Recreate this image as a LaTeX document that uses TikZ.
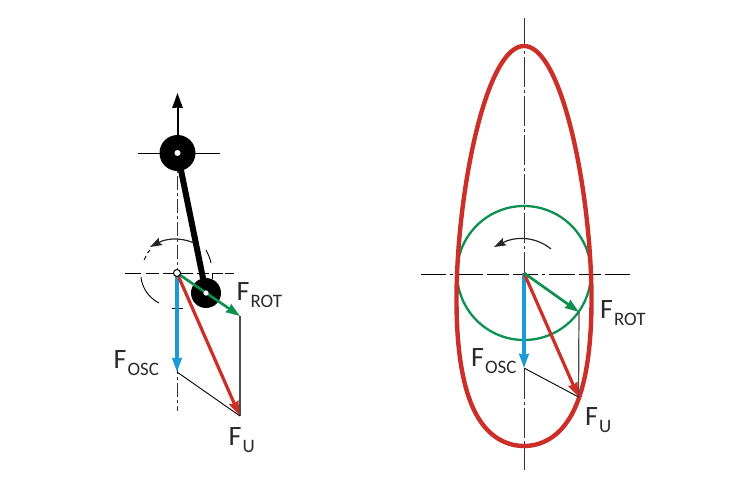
\documentclass[tikz,border=0pt]{standalone}
\usepackage{fontspec}
\setmainfont{Carlito}
\usetikzlibrary{arrows.meta}
\definecolor{cred}{HTML}{CC2E28}
\definecolor{cgreen}{HTML}{0E9050}
\definecolor{cblue}{HTML}{1A9AD6}
\definecolor{ctext}{HTML}{2A2A2A}
\newcommand{\flab}[1]{F{\fontsize{19}{19}\selectfont\hspace{1pt}\raisebox{-7pt}{#1}}}
\tikzset{
  axis/.style={line width=0.9pt,color=black!80,dash pattern=on 30pt off 3pt on 3pt off 3pt},
  thinline/.style={line width=0.9pt,color=black},
  grayline/.style={line width=1.2pt,color=black!70},
  force/.style={line width=3.2pt,-{Stealth[length=14pt,width=9.5pt,inset=1pt]}},
  rotarrow/.style={line width=1.2pt,color=black!85,-{Stealth[length=12pt,width=8pt,inset=2pt]}},
  lab/.style={anchor=base west,inner sep=0pt,font=\fontsize{28}{28}\selectfont,text=ctext},
  curve/.style={line width=4.4pt,color=cred},
  circ/.style={line width=2.3pt,color=cgreen}
}
\begin{document}
\begin{tikzpicture}[x=1pt,y=-1pt]
\useasboundingbox (0,0) rectangle (755,488);
\fill[white] (0,0) rectangle (755,488);
% ---------- left figure
\coordinate (oL) at (177,273);
\coordinate (pin) at (177.5,153);
\coordinate (crank) at (206,293);
\coordinate (tipUp) at (177.5,93);
\coordinate (axT) at (177,153);
\coordinate (axB) at (177,411);
\coordinate (lh1) at (138,153);
\coordinate (lh2) at (220,153);
\coordinate (hL1) at (125,273);
\coordinate (hL2) at (234,273);
\coordinate (rotL) at (240,316);
\coordinate (oscL) at (177,372);
\coordinate (resL) at (240,416);
\coordinate (tick1) at (172,308);
\coordinate (tick2) at (183,308);
\draw[line width=0.9pt,color=black!80,dash pattern=on 14pt off 3pt on 3pt off 3pt] (axT) -- (axB);
\draw[thinline] (lh1) -- (lh2);
\draw[thinline,dash pattern=on 16pt off 5pt on 13pt off 4pt on 30pt off 4pt on 12pt off 4pt on 10pt off 2pt on 12pt] (hL1) -- (hL2);
\draw[thinline] (tick1) -- (tick2);
\draw[thinline] (212,273) -- (212,279);
\draw[thinline] (141,277) .. controls (142,288) and (149,298) .. (159,303);
\draw[thinline] (144,260) -- (146,256);
\draw[thinline] (147.5,253) -- (150,250);
\draw[thinline] (206,250) .. controls (208,254) and (210,258) .. (211,263);
\draw[rotarrow] (198,245) .. controls (186,238) and (169,237) .. (150,247);
\draw[line width=2pt,-{Stealth[length=15pt,width=10.5pt,inset=0.5pt]}] (pin) -- (tipUp);
\draw[line width=6pt] (pin) -- (crank);
\fill (pin) circle[radius=18];
\fill[white] (pin) circle[radius=3];
\fill (crank) circle[radius=15];
\draw[grayline] (rotL) -- (resL);
\draw[thinline] (oscL) -- (resL);
\draw[force,color=cblue,line width=3.6pt] (oL) -- (oscL);
\draw[force,color=cred] (oL) -- (239.5,415.5);
\draw[force,color=cgreen,line width=2.7pt] (oL) -- (rotL);
\fill[white] (crank) circle[radius=2.6];
\draw[fill=white,line width=1pt] (oL) circle[radius=3.5];
\node[lab] (frotL) at (236.5,300) {\flab{ROT}};
\node[lab] (foscL) at (113.5,368) {\flab{OSC}};
\node[lab] (fuL) at (228.5,445) {\flab{U}};
% ---------- right figure
\coordinate (oR) at (524,273);
\coordinate (vT) at (524,18);
\coordinate (vB) at (524,470);
\coordinate (hR1) at (421,274);
\coordinate (hR2) at (633,274);
\coordinate (rotR) at (579,312);
\coordinate (oscR) at (524,368);
\coordinate (resR) at (578.5,397);
\draw[axis] (vT) -- (vB);
\draw[thinline,dash pattern=on 25pt off 4pt on 3pt off 4pt on 26pt off 4pt on 22pt off 4pt] (hR1) -- (hR2);
\draw[circ] (oR) circle[radius=67];
\draw[curve] plot[domain=0:360,samples=145,smooth] ({524+67.5*sin(\x)},{273-200*cos(\x)-27*cos(2*\x)}) -- cycle;
\draw[rotarrow] (551,249) .. controls (538,238) and (518,235) .. (494,247);
\draw[grayline] (rotR) -- (resR);
\draw[thinline] (oscR) -- (resR);
\draw[force,color=cblue,line width=3.6pt] (oR) -- (oscR);
\draw[force,color=cred] (oR) -- (resR);
\draw[force,color=cgreen,line width=2.7pt] (oR) -- (rotR);
\node[lab] (frotR) at (600,318) {\flab{ROT}};
\node[lab] (foscR) at (471,366) {\flab{OSC}};
\node[lab] (fuR) at (585,425) {\flab{U}};
\end{tikzpicture}
\end{document}
